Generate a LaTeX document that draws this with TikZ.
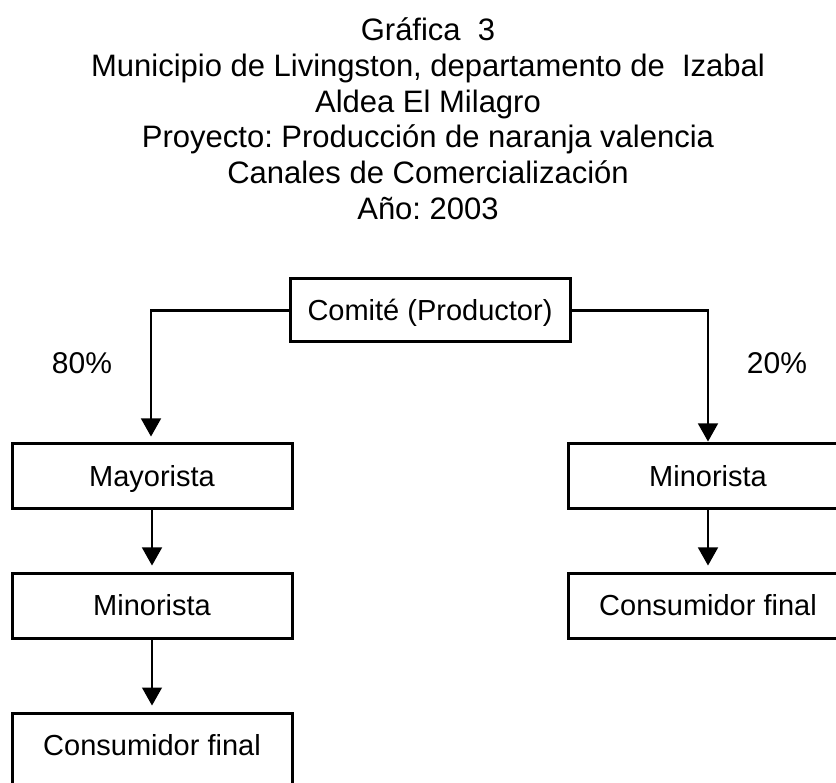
\documentclass[tikz,border=0pt]{standalone}
\usepackage{fontspec}
\setmainfont{Liberation Sans}
\frenchspacing
\usetikzlibrary{arrows.meta}
\begin{document}
\begin{tikzpicture}[x=1pt,y=-1pt,
  boxnode/.style={draw, line width=3pt, minimum width=280pt, minimum height=65pt, inner sep=0pt, text height=26pt, text depth=6pt, font=\fontsize{29}{34}\selectfont},
  titleline/.style={anchor=base, inner sep=0pt, font=\fontsize{31}{36}\selectfont},
  pct/.style={inner sep=0pt, font=\fontsize{30}{35}\selectfont},
  hline/.style={line width=3pt},
  arr/.style={line width=1.2pt, -{Triangle[width=20pt,length=18pt]}, shorten >=6pt}]
\useasboundingbox (0,0) rectangle (836,783);
\clip (0,0) rectangle (836,783);
% title
\node[titleline] (t1) at (428,41) {Gráfica\ \ 3};
\node[titleline] (t2) at (428,77) {Municipio de Livingston, departamento de\ \ Izabal};
\node[titleline] (t3) at (428,113) {Aldea El Milagro};
\node[titleline] (t4) at (428,148) {Proyecto: Producción de naranja valencia};
\node[titleline] (t5) at (428,184) {Canales de Comercialización};
\node[titleline] (t6) at (428,220) {Año: 2003};
% nodes
\node[boxnode, minimum height=63pt] (com) at (430,310.5) {Comité (Productor)};
\node[boxnode] (may) at (152,476.5) {Mayorista};
\node[boxnode] (lmin) at (152,605.5) {Minorista};
\node[boxnode, anchor=north, minimum height=100pt, text height=20pt, text depth=35pt] (lcon) at (152,711.5) {Consumidor final};
\node[boxnode] (rmin) at (708,476.5) {Minorista};
\node[boxnode] (rcon) at (708,605.5) {Consumidor final};
\node[pct] (p80) at (82,363) {80\%};
\node[pct] (p20) at (777,363) {20\%};
% connectors
\coordinate (lc) at (151,311);
\coordinate (rc) at (708,311);
\draw[hline] (com.west |- lc) -- ([xshift=-0.6pt]lc);
\draw[hline] (com.east |- rc) -- ([xshift=0.6pt]rc);
\draw[arr] (lc) -- (lc |- may.north);
\draw[arr, shorten >=1pt] (rc) -- (rmin.north);
\draw[arr] (may.south) -- (lmin.north);
\draw[arr] (lmin.south) -- (lcon.north);
\draw[arr] (rmin.south) -- (rcon.north);
\end{tikzpicture}
\end{document}
